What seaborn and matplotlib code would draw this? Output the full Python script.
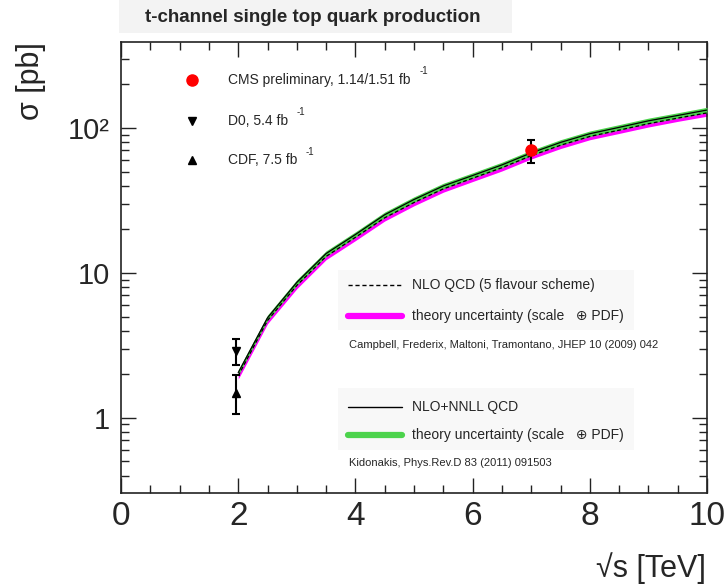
import numpy as np
import pandas as pd
import matplotlib
matplotlib.use("Agg")
import matplotlib.pyplot as plt
import seaborn as sns
from matplotlib.lines import Line2D
from matplotlib.patches import Rectangle
from matplotlib.ticker import FixedLocator, LogLocator, MultipleLocator, NullFormatter

sns.set_style("ticks")
plt.rcParams['font.family'] = ['Liberation Sans', 'DejaVu Sans']

# theory curves, sqrt(s) in TeV, cross sections in pb
energy = [2.0, 2.5, 3.0, 3.5, 4.0, 4.5, 5.0, 5.5, 6.0, 6.5, 7.0, 7.5, 8.0, 8.5, 9.0, 9.5, 10.0]
nnll = [2.05, 4.9, 8.6, 13.6, 18.4, 25.2, 32.1, 39.8, 47.0, 55.6, 67.3, 79.5, 91.3, 101, 112, 122, 133]
nnll_err = [0.09, 0.22, 0.38, 0.6, 0.8, 1.1, 1.4, 1.75, 2.05, 2.45, 2.95, 3.5, 4.0, 4.45, 4.9, 5.35, 5.85]
nlo = [1.95, 4.7, 8.2, 13.0, 17.6, 24.0, 30.6, 38.0, 45.0, 53.2, 64.4, 76.0, 87.4, 96.6, 107, 117, 127]
nlo_err = [0.1, 0.24, 0.42, 0.66, 0.9, 1.2, 1.55, 1.95, 2.3, 2.7, 3.3, 3.9, 4.45, 4.9, 5.45, 5.95, 6.45]

# measurements
meas_names = ["CMS", "D0", "CDF"]
meas_energy = [7.0, 1.96, 1.96]
meas_xsec = [70.2, 2.90, 1.49]
meas_err_lo = [13.0, 0.59, 0.42]
meas_err_hi = [13.0, 0.59, 0.47]
meas_marker = ["o", "v", "^"]
meas_color = ["red", "black", "black"]
meas_size = [8, 6, 6]

yticks = [1, 10, 100]
ytick_labels = ["1", "10", "10\u00b2"]

df = pd.DataFrame({"energy": energy, "nnll": nnll, "nlo": nlo})
nnll_a = np.array(nnll); nnll_e = np.array(nnll_err)
nlo_a = np.array(nlo); nlo_e = np.array(nlo_err)

fig = plt.figure(figsize=(7.27, 5.87), dpi=100)
ax = fig.add_axes([121/727, (587-493)/587, 586/727, 451/587])

# title box
fig.patches.append(Rectangle((119/727, 1-33/587), (512-119)/727, 33/587,
                             transform=fig.transFigure, facecolor="#f3f3f3",
                             edgecolor="none", zorder=0))
fig.text(313/727, 1-17/587, "t-channel single top quark production",
         ha="center", va="center", fontsize=13.5, fontweight="bold")

ax.fill_between(energy, nlo_a - nlo_e, nlo_a + nlo_e, color="#ff00ff", lw=0, zorder=2)
ax.fill_between(energy, nnll_a - nnll_e, nnll_a + nnll_e, color="#4cd34c", lw=0, zorder=3)
sns.lineplot(data=df, x="energy", y="nnll", ax=ax, color="black", lw=0.9, zorder=4)
sns.lineplot(data=df, x="energy", y="nlo", ax=ax, color="black", lw=0.9,
             linestyle=(0, (3, 2)), zorder=4)

for i in range(len(meas_names)):
    ax.errorbar(meas_energy[i], meas_xsec[i],
                yerr=[[meas_err_lo[i]], [meas_err_hi[i]]],
                fmt=meas_marker[i], color=meas_color[i], ecolor="black",
                ms=meas_size[i], elinewidth=1.5, capsize=3, capthick=1.5, zorder=6)

ax.set_yscale("log")
ax.set_xlim(0, 10)
ax.set_ylim(0.303, 392)
ax.xaxis.set_major_locator(MultipleLocator(2))
ax.xaxis.set_minor_locator(MultipleLocator(0.5))
ax.yaxis.set_major_locator(FixedLocator(yticks))
ax.set_yticklabels(ytick_labels)
ax.yaxis.set_minor_locator(LogLocator(base=10, subs=np.arange(2, 10)))
ax.yaxis.set_minor_formatter(NullFormatter())
ax.tick_params(which="both", direction="in", top=True, right=True, width=1.0, color="#222222")
ax.tick_params(which="major", length=11)
ax.tick_params(which="minor", length=6)
ax.tick_params(axis="x", labelsize=24, pad=6)
ax.tick_params(axis="y", labelsize=21, pad=8)
for sp in ax.spines.values():
    sp.set_linewidth(1.2)
    sp.set_color("#222222")
ax.set_xlabel("")
ax.set_ylabel("")

fig.text(31/727, 1-42/587, "\u03c3 [pb]", rotation=90, ha="center", va="top", fontsize=22)
fig.text(706/727, 1-568/587, "\u221as [TeV]", ha="right", va="center", fontsize=22)

# upper legend
tA = ax.transAxes
leg_y = [0.916, 0.825, 0.738]
leg_txt = ["CMS preliminary, 1.14/1.51 fb", "D0, 5.4 fb", "CDF, 7.5 fb"]
for i in range(3):
    ax.add_line(Line2D([0.121], [leg_y[i]], marker=meas_marker[i], color=meas_color[i],
                       ms=meas_size[i], ls="none", transform=tA))
    t = ax.text(0.183, leg_y[i], leg_txt[i], transform=tA, ha="left", va="center", fontsize=10)
    ax.annotate("-1", xy=(1, 0.75), xycoords=t, xytext=(6, 0), textcoords="offset points",
                ha="left", va="bottom", fontsize=7)

# lower legends
for y0, y1 in [(0.362, 0.494), (0.095, 0.233)]:
    ax.add_patch(Rectangle((0.370, y0), 0.505, y1 - y0, transform=tA,
                           facecolor="#f8f8f8", edgecolor="none", zorder=1))
ax.add_line(Line2D([0.388, 0.480], [0.461, 0.461], color="black", lw=1.0,
                   ls=(0, (3, 2)), transform=tA))
ax.text(0.497, 0.461, "NLO QCD (5 flavour scheme)", transform=tA, va="center", fontsize=10)
ax.add_line(Line2D([0.388, 0.480], [0.392, 0.392], color="#ff00ff", lw=4.5, transform=tA))
ax.text(0.497, 0.392, "theory uncertainty (scale   \u2295 PDF)", transform=tA, va="center",
        fontsize=10, family=['Liberation Sans', 'DejaVu Sans'])
ax.text(0.389, 0.328, "Campbell, Frederix, Maltoni, Tramontano, JHEP 10 (2009) 042",
        transform=tA, va="center", fontsize=8)
ax.add_line(Line2D([0.388, 0.480], [0.191, 0.191], color="black", lw=1.0, transform=tA))
ax.text(0.497, 0.191, "NLO+NNLL QCD", transform=tA, va="center", fontsize=10)
ax.add_line(Line2D([0.388, 0.480], [0.129, 0.129], color="#4cd34c", lw=4.5, transform=tA))
ax.text(0.497, 0.129, "theory uncertainty (scale   \u2295 PDF)", transform=tA, va="center",
        fontsize=10, family=['Liberation Sans', 'DejaVu Sans'])
ax.text(0.389, 0.067, "Kidonakis, Phys.Rev.D 83 (2011) 091503",
        transform=tA, va="center", fontsize=8)

fig.savefig("out.png", dpi=100)
